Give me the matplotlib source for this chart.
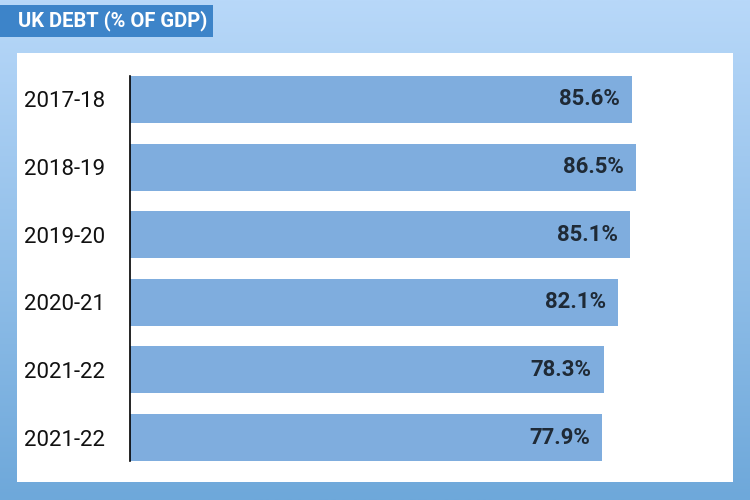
import numpy as np
import matplotlib
matplotlib.use('Agg')
import matplotlib.pyplot as plt
from matplotlib.patches import Rectangle

years = ['2017-18', '2018-19', '2019-20', '2020-21', '2021-22', '2021-22']
debt = [85.6, 86.5, 85.1, 82.1, 78.3, 77.9]
labels = ['85.6%', '86.5%', '85.1%', '82.1%', '78.3%', '77.9%']
title = 'UK DEBT (% OF GDP)'

font = 'Roboto'
base = -43.2
bar_color = '#7fadde'

fig = plt.figure(figsize=(7.5, 5), dpi=100)

# background gradient
bg = fig.add_axes([0, 0, 1, 1], zorder=0)
grad = np.linspace(0, 1, 256).reshape(-1, 1)
top = np.array([184, 216, 249]) / 255
bot = np.array([110, 168, 218]) / 255
img = top + (bot - top) * grad[:, :, None]
bg.imshow(img, aspect='auto', extent=[0, 1, 0, 1])
bg.set_axis_off()

# white panel and title box
fig.patches.append(Rectangle((0.0227, 0.036), 0.9547, 0.858, transform=fig.transFigure,
                             facecolor='white', edgecolor='none', zorder=1))
fig.patches.append(Rectangle((0, 0.926), 0.284, 0.064, transform=fig.transFigure,
                             facecolor='#3d84c9', edgecolor='none', zorder=1))
fig.text(0.024, 0.958, title, color='white', fontsize=14.5, fontweight='bold',
         family=font, va='center', ha='left', zorder=3)

ax = fig.add_axes([0.1733, 0.078, 0.804, 0.77], zorder=2)
ax.patch.set_visible(False)
y = np.arange(len(years))
ax.barh(y, [v - base for v in debt], left=base, height=0.695, color=bar_color)
for yi, v, lab in zip(y, debt, labels):
    ax.text(v - 3.1, yi, lab, ha='right', va='center', fontsize=16, fontweight='bold',
            family=font, color='#1f2a36')

ax.set_xlim(base, 111.5)
ax.set_ylim(len(years) - 1 + 0.3475, -0.3475)
ax.set_yticks(y)
ax.set_yticklabels(years, fontsize=16, family=font, color='#111111')
ax.tick_params(axis='y', length=0, pad=18)
ax.set_xticks([])
for s in ['top', 'right', 'bottom']:
    ax.spines[s].set_visible(False)
ax.spines['left'].set_linewidth(1.2)

fig.savefig('out.png', dpi=100)
